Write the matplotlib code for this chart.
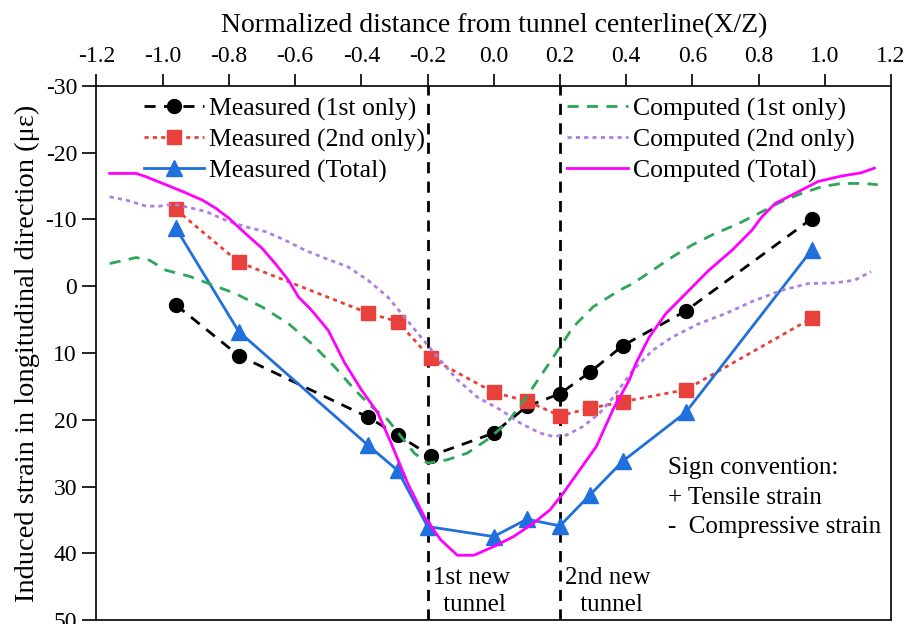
import matplotlib
matplotlib.use("Agg")
import matplotlib.pyplot as plt
from matplotlib.ticker import MultipleLocator, FormatStrFormatter

plt.rcParams['font.family'] = ['Liberation Serif', 'DejaVu Serif']
plt.rcParams['axes.unicode_minus'] = False

# Measured data (normalized distance X/Z, strain in micro-strain)
meas_1st_x = [-0.96, -0.77, -0.38, -0.29, -0.19, 0.0, 0.10, 0.20, 0.29, 0.39, 0.58, 0.96]
meas_1st_y = [2.8, 10.4, 19.6, 22.3, 25.4, 22.0, 18.0, 16.1, 12.9, 8.9, 3.7, -10.1]

meas_2nd_x = [-0.96, -0.77, -0.38, -0.29, -0.19, 0.0, 0.10, 0.20, 0.29, 0.39, 0.58, 0.96]
meas_2nd_y = [-11.5, -3.6, 4.0, 5.3, 10.8, 15.9, 17.2, 19.4, 18.3, 17.3, 15.5, 4.8]

meas_tot_x = [-0.96, -0.77, -0.38, -0.29, -0.20, 0.0, 0.10, 0.20, 0.29, 0.39, 0.58, 0.96]
meas_tot_y = [-8.7, 6.8, 23.8, 27.6, 36.0, 37.5, 34.9, 35.9, 31.3, 26.2, 18.9, -5.4]

# Computed curves
comp_1st_x = [-1.16, -1.08, -1.04, -0.99, -0.92, -0.85, -0.78, -0.70, -0.62, -0.55,
              -0.48, -0.42, -0.37, -0.32, -0.28, -0.24, -0.20, -0.14, -0.08, -0.02,
              0.04, 0.10, 0.16, 0.20, 0.24, 0.30, 0.38, 0.42, 0.48, 0.54, 0.60,
              0.66, 0.74, 0.80, 0.87, 0.93, 0.99, 1.05, 1.12, 1.16]
comp_1st_y = [-3.4, -4.3, -3.9, -2.4, -1.5, -0.2, 1.1, 3.1, 5.6, 8.6,
              12.1, 15.5, 18.0, 20.0, 22.5, 25.0, 26.5, 26.0, 25.0, 23.0,
              20.5, 16.5, 12.1, 9.1, 6.1, 3.1, 0.6, -0.4, -2.4, -4.4, -6.2,
              -7.7, -9.4, -10.9, -12.7, -13.9, -14.9, -15.4, -15.4, -15.2]

comp_2nd_x = [-1.16, -1.11, -1.05, -1.01, -0.97, -0.93, -0.87, -0.81, -0.75, -0.69,
              -0.63, -0.57, -0.51, -0.44, -0.38, -0.32, -0.27, -0.22, -0.17, -0.11,
              -0.05, 0.02, 0.08, 0.14, 0.18, 0.22, 0.27, 0.32, 0.36, 0.42, 0.48,
              0.54, 0.62, 0.70, 0.78, 0.87, 0.95, 1.03, 1.09, 1.14]
comp_2nd_y = [-13.4, -12.9, -12.0, -12.0, -12.3, -11.9, -11.2, -9.9, -8.9, -8.2,
              -6.9, -5.4, -4.2, -2.9, -0.9, 1.6, 4.6, 7.6, 10.6, 14.0,
              16.6, 18.5, 20.5, 22.0, 22.5, 22.3, 21.0, 19.0, 16.7, 12.6, 9.6,
              7.6, 5.6, 4.1, 2.3, 0.6, -0.4, -0.5, -0.9, -2.2]

comp_tot_x = [-1.16, -1.08, -1.05, -1.00, -0.94, -0.88, -0.84, -0.80, -0.75, -0.70,
              -0.66, -0.62, -0.59, -0.55, -0.50, -0.45, -0.40, -0.35, -0.31, -0.26,
              -0.21, -0.16, -0.11, -0.06, 0.0, 0.06, 0.12, 0.17, 0.21, 0.26, 0.31,
              0.36, 0.41, 0.43, 0.47, 0.52, 0.58, 0.65, 0.72, 0.78, 0.81, 0.85,
              0.91, 0.98, 1.05, 1.11, 1.15]
comp_tot_y = [-16.9, -16.9, -16.4, -15.4, -14.2, -12.9, -11.7, -10.2, -7.9, -5.7,
              -3.4, -0.9, 1.6, 3.6, 6.6, 11.5, 15.5, 19.0, 23.5, 29.5,
              34.5, 38.0, 40.3, 40.3, 39.0, 37.5, 35.5, 33.5, 31.0, 27.5, 24.0,
              18.5, 14.0, 11.5, 7.6, 4.1, 1.1, -2.4, -5.4, -8.4, -10.4, -12.4,
              -13.9, -15.7, -16.5, -17.0, -17.7]

tunnel_x = [-0.2, 0.2]

red = "#e8413b"
blue = "#1f6fdc"
green = "#2ea65a"
purple = "#ad7fe0"
magenta = "#ff00ff"

fig = plt.figure(figsize=(9.16, 6.24), dpi=100)
ax = fig.add_axes([0.1053, 0.0064, 0.8674, 0.8558])

h1, = ax.plot(meas_1st_x, meas_1st_y, color="black", linestyle=(0, (4, 3)), linewidth=2,
              marker="o", markersize=10, label="Measured (1st only)")
h2, = ax.plot(meas_2nd_x, meas_2nd_y, color=red, linestyle=(0, (1.5, 1.5)), linewidth=2,
              marker="s", markersize=10, label="Measured (2nd only)")
h3, = ax.plot(meas_tot_x, meas_tot_y, color=blue, linestyle="-", linewidth=2,
              marker="^", markersize=11, label="Measured (Total)")
h4, = ax.plot(comp_1st_x, comp_1st_y, color=green, linestyle=(0, (4, 3)), linewidth=2,
              label="Computed (1st only)")
h5, = ax.plot(comp_2nd_x, comp_2nd_y, color=purple, linestyle=(0, (1.5, 1.5)), linewidth=2,
              label="Computed (2nd only)")
h6, = ax.plot(comp_tot_x, comp_tot_y, color=magenta, linestyle="-", linewidth=2,
              label="Computed (Total)")

for tx in tunnel_x:
    ax.axvline(tx, color="black", linestyle=(0, (4, 3)), linewidth=2, zorder=1)

ax.set_xlim(-1.2, 1.2)
ax.set_ylim(50, -30)
ax.xaxis.set_major_locator(MultipleLocator(0.2))
ax.xaxis.set_major_formatter(FormatStrFormatter("%.1f"))
ax.yaxis.set_major_locator(MultipleLocator(10))
ax.xaxis.tick_top()
ax.xaxis.set_label_position("top")
ax.tick_params(axis="x", direction="out", length=9, width=1.2, labelsize=17, pad=5)
ax.tick_params(axis="y", direction="out", length=10, width=1.2, labelsize=17, pad=4)
for s in ax.spines.values():
    s.set_linewidth(1.2)

ax.set_xlabel("Normalized distance from tunnel centerline(X/Z)", fontsize=20, labelpad=10)
ax.set_ylabel("Induced strain in longitudinal direction (\u03bc\u03b5)", fontsize=20.5, labelpad=4)

leg1 = ax.legend(handles=[h1, h2, h3], loc="upper left", bbox_to_anchor=(0.04, 1.008),
                 frameon=False, fontsize=18.5, handlelength=2.35, handletextpad=0.2,
                 labelspacing=0.3, borderaxespad=0.2)
ax.add_artist(leg1)
ax.legend(handles=[h4, h5, h6], loc="upper left", bbox_to_anchor=(0.573, 1.008),
          frameon=False, fontsize=18.5, handlelength=2.35, handletextpad=0.2,
          labelspacing=0.3, borderaxespad=0.2)

ax.text(-0.066, 42.0, "1st new\n tunnel", fontsize=18, ha="center", va="top", linespacing=1.3)
ax.text(0.345, 42.0, "2nd new\n tunnel", fontsize=18, ha="center", va="top", linespacing=1.3)
ax.text(0.525, 25.6, "Sign convention:\n+ Tensile strain\n-  Compressive strain",
        fontsize=18, ha="left", va="top", linespacing=1.45)

fig.savefig("out.png", dpi=100)
